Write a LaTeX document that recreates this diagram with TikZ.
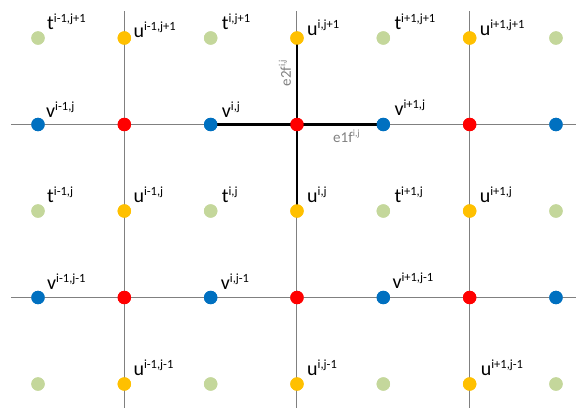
\documentclass[tikz,border=0pt]{standalone}
\usepackage{fontspec}
\setmainfont{Carlito}
\definecolor{cgreen}{RGB}{196,215,155}
\definecolor{corange}{RGB}{255,192,0}
\definecolor{cblue}{RGB}{0,112,192}
\definecolor{cred}{RGB}{255,0,0}
\definecolor{cgrid}{RGB}{128,128,128}
\definecolor{clab}{RGB}{128,128,128}
\newcommand\supx[1]{\raisebox{7pt}{\fontsize{12.5}{14}\selectfont #1}}
\newcommand\supe[1]{\raisebox{5.5pt}{\fontsize{9.5}{10}\selectfont #1}}
\tikzset{
  dotbase/.style={circle, inner sep=0pt, minimum size=13.4pt, draw=none},
  tdot/.style={dotbase, fill=cgreen},
  udot/.style={dotbase, fill=corange},
  vdot/.style={dotbase, fill=cblue},
  rdot/.style={dotbase, fill=cred},
  gridline/.style={draw=cgrid, line width=1pt},
  edgeline/.style={draw=black, line width=2.7pt},
  lab/.style={anchor=base west, inner sep=0pt, font=\fontsize{20}{24}\selectfont},
  elab/.style={inner sep=0pt, text=clab, font=\fontsize{15}{17}\selectfont}
}
\begin{document}
\begin{tikzpicture}[x=1pt,y=-1pt]
\useasboundingbox (0,0) rectangle (576,408);
% column / row positions
\def\cx#1{38+86.33*#1}
\def\ry#1{38+86.5*#1}
% dots (as named nodes)
\foreach \c in {0,2,4,6}{\foreach \r in {0,2,4}{
  \node[tdot] (n-\c-\r) at ({\cx{\c}},{\ry{\r}}) {};}}
\foreach \c in {1,3,5}{\foreach \r in {0,2,4}{
  \node[udot] (n-\c-\r) at ({\cx{\c}},{\ry{\r}}) {};}}
\foreach \c in {0,2,4,6}{\foreach \r in {1,3}{
  \node[vdot] (n-\c-\r) at ({\cx{\c}},{\ry{\r}}) {};}}
\foreach \c in {1,3,5}{\foreach \r in {1,3}{
  \node[rdot] (n-\c-\r) at ({\cx{\c}},{\ry{\r}}) {};}}
% grid line end points
\foreach \c in {1,3,5}{
  \coordinate (top-\c) at ({\cx{\c}},11);
  \coordinate (bot-\c) at ({\cx{\c}},408);}
\foreach \r in {1,3}{
  \coordinate (lft-\r) at (11,{\ry{\r}});
  \coordinate (rgt-\r) at (576,{\ry{\r}});}
\foreach \c in {1,3,5}{\draw[gridline] (top-\c) -- (bot-\c);}
\foreach \r in {1,3}{\draw[gridline] (lft-\r) -- (rgt-\r);}
\draw[edgeline] (n-2-1.center) -- (n-4-1.center);
\draw[edgeline] (n-3-0.center) -- (n-3-2.center);
% redraw dots on top of the lines
\foreach \c in {0,2,4,6}{\foreach \r in {0,2,4}{
  \node[tdot] at (n-\c-\r) {};}}
\foreach \c in {1,3,5}{\foreach \r in {0,2,4}{
  \node[udot] at (n-\c-\r) {};}}
\foreach \c in {0,2,4,6}{\foreach \r in {1,3}{
  \node[vdot] at (n-\c-\r) {};}}
\foreach \c in {1,3,5}{\foreach \r in {1,3}{
  \node[rdot] at (n-\c-\r) {};}}
% labels: t
\node[lab] (lt1) at ([xshift=9pt,yshift=9pt]n-0-0.center) {t\supx{i-1,j+1}};
\node[lab] (lt2) at ([xshift=11pt,yshift=9pt]n-2-0.center) {t\supx{i,j+1}};
\node[lab] (lt3) at ([xshift=11pt,yshift=9pt]n-4-0.center) {t\supx{i+1,j+1}};
\node[lab] (lt4) at ([xshift=9pt,yshift=9pt]n-0-2.center) {t\supx{i-1,j}};
\node[lab] (lt5) at ([xshift=11pt,yshift=9pt]n-2-2.center) {t\supx{i,j}};
\node[lab] (lt6) at ([xshift=11pt,yshift=9pt]n-4-2.center) {t\supx{i+1,j}};
% labels: u
\node[lab] (lu1) at ([xshift=9pt,yshift=1pt]n-1-0.center) {u\supx{i-1,j+1}};
\node[lab] (lu2) at ([xshift=10pt,yshift=3pt]n-3-0.center) {u\supx{i,j+1}};
\node[lab] (lu3) at ([xshift=10pt,yshift=3pt]n-5-0.center) {u\supx{i+1,j+1}};
\node[lab] (lu4) at ([xshift=9pt,yshift=9pt]n-1-2.center) {u\supx{i-1,j}};
\node[lab] (lu5) at ([xshift=10pt,yshift=9pt]n-3-2.center) {u\supx{i,j}};
\node[lab] (lu6) at ([xshift=10pt,yshift=9pt]n-5-2.center) {u\supx{i+1,j}};
\node[lab] (lu7) at ([xshift=9pt,yshift=9pt]n-1-4.center) {u\supx{i-1,j-1}};
\node[lab] (lu8) at ([xshift=10pt,yshift=9pt]n-3-4.center) {u\supx{i,j-1}};
\node[lab] (lu9) at ([xshift=11pt,yshift=9pt]n-5-4.center) {u\supx{i+1,j-1}};
% labels: v
\node[lab] (lv1) at ([xshift=8pt,yshift=7pt]n-0-1.center) {v\supx{i-1,j}};
\node[lab] (lv2) at ([xshift=11pt,yshift=7pt]n-2-1.center) {v\supx{i,j}};
\node[lab] (lv3) at ([xshift=11pt,yshift=9pt]n-4-1.center) {v\supx{i+1,j}};
\node[lab] (lv4) at ([xshift=9pt,yshift=8pt]n-0-3.center) {v\supx{i-1,j-1}};
\node[lab] (lv5) at ([xshift=10pt,yshift=8pt]n-2-3.center) {v\supx{i,j-1}};
\node[lab] (lv6) at ([xshift=9pt,yshift=9pt]n-4-3.center) {v\supx{i+1,j-1}};
% edge labels
\node[elab, rotate=90] (le2) at (285,73) {e2f\supe{i,j}};
\node[elab, anchor=base west] (le1) at (333,142) {e1f\supe{i,j}};
\end{tikzpicture}
\end{document}
